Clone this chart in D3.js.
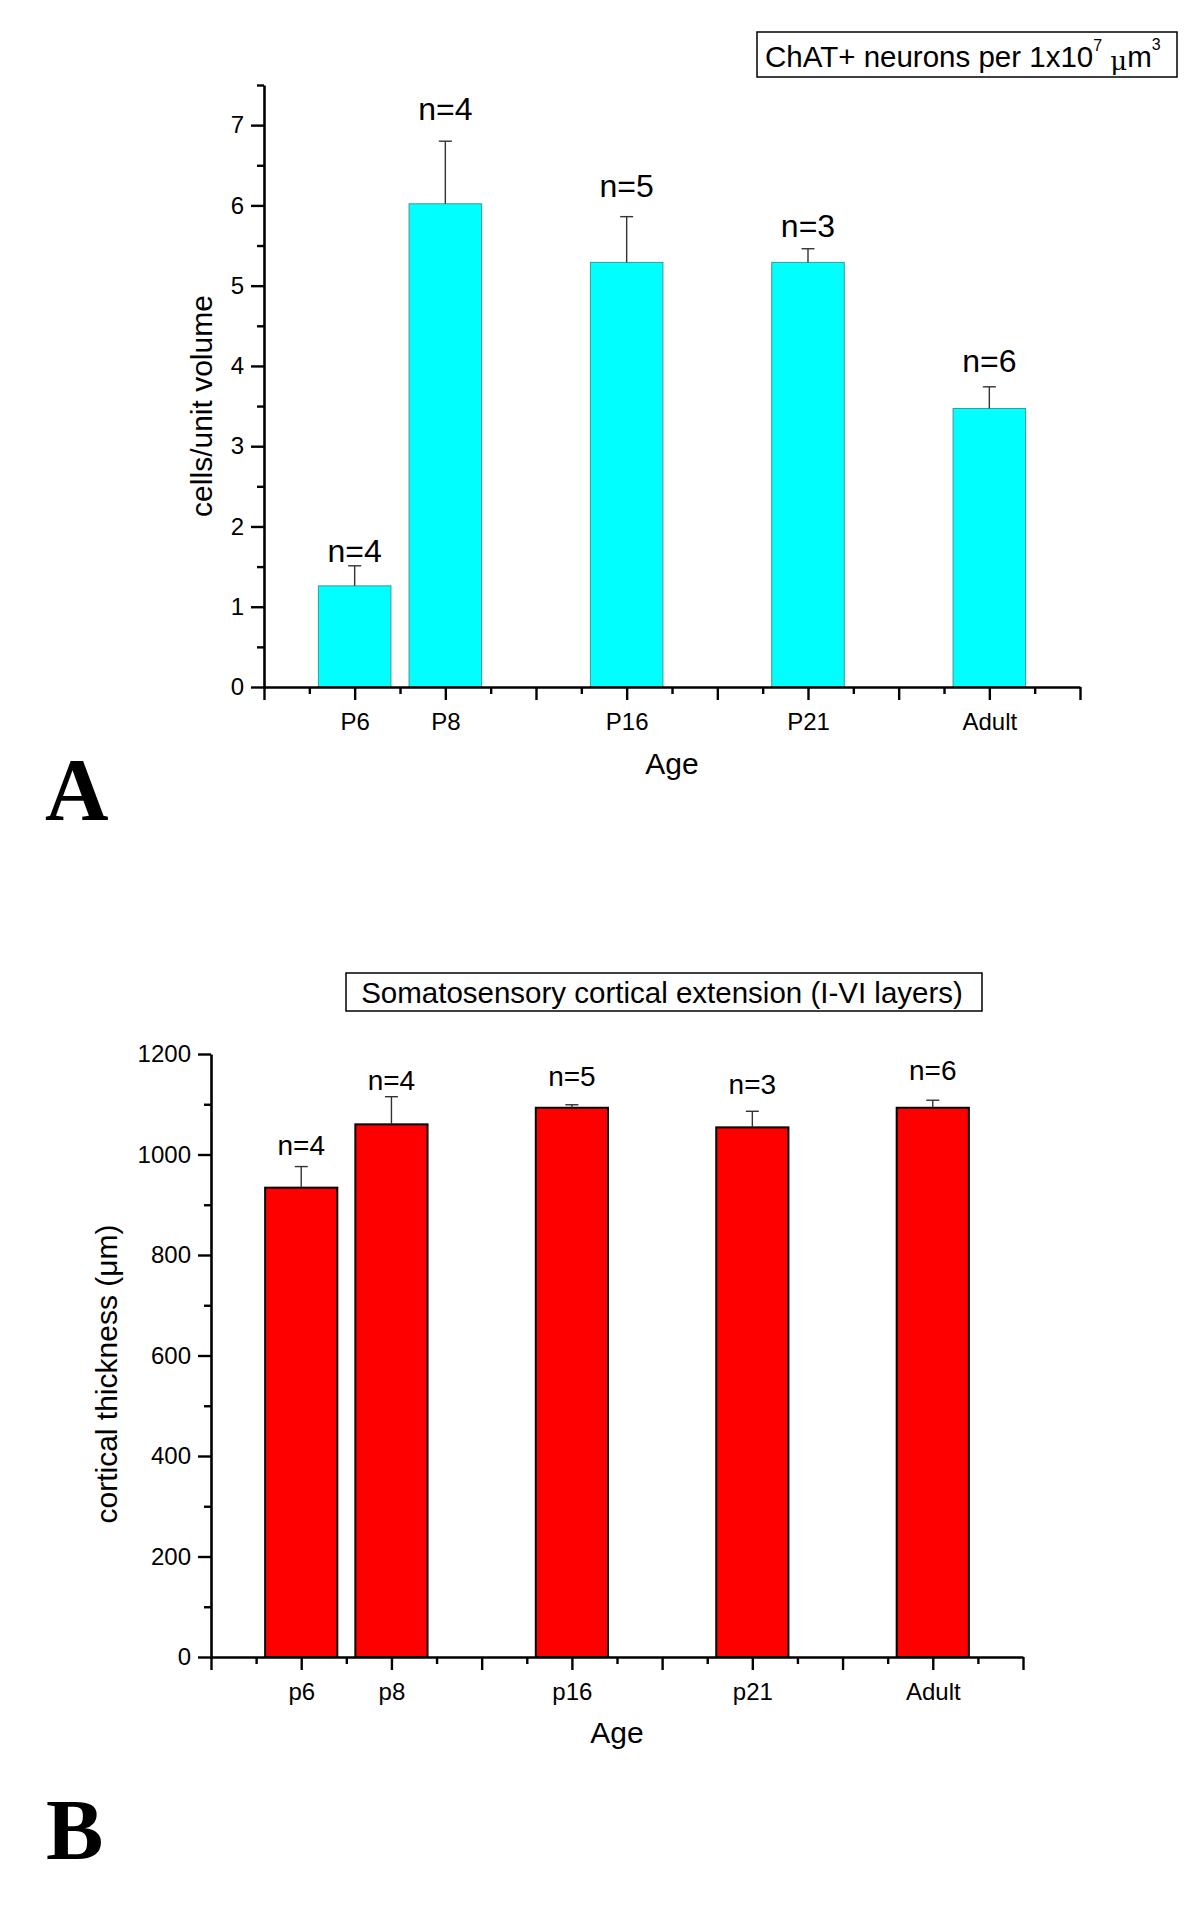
<!DOCTYPE html>
<html><head><meta charset="utf-8">
<script src="https://cdn.jsdelivr.net/npm/d3@7"></script>
<style>
html,body{margin:0;padding:0;background:#fff;}
svg{display:block;}
text{font-family:"Liberation Sans",Arial,sans-serif;fill:#000;}
</style></head>
<body>
<svg id="chart" width="1200" height="1910"></svg>
<script>
// ---- Panel A data ----
const catsA = ["P6","P8","P16","P21","Adult"];
const posA = [1,2,4,6,8];
const meanA = [1.26, 6.02, 5.29, 5.29, 3.47];
const errA = [0.25, 0.78, 0.57, 0.17, 0.27];
const nLabA = ["n=4","n=4","n=5","n=3","n=6"];
const nYA = [1.56, 7.07, 6.11, 5.61, 3.92];
const yMajorA = [0,1,2,3,4,5,6,7];
const yMinorA = [0.5,1.5,2.5,3.5,4.5,5.5,6.5,7.5];

// ---- Panel B data ----
const catsB = ["p6","p8","p16","p21","Adult"];
const posB = [1,2,4,6,8];
const meanB = [934, 1060, 1093, 1054, 1093];
const errB = [42, 55, 6, 32, 15];
const nLabB = ["n=4","n=4","n=5","n=3","n=6"];
const nYB = [1000, 1129, 1136, 1120, 1148];
const yMajorB = [0,200,400,600,800,1000,1200];
const yMinorB = [100,300,500,700,900,1100];

const xMajor = [0,1,2,3,4,5,6,7,8,9];
const xMinor = [0.5,1.5,2.5,3.5,4.5,5.5,6.5,7.5,8.5];

const svg = d3.select("#chart");
svg.append("rect").attr("width",1200).attr("height",1910).attr("fill","#fff");

function panel(cfg){
  const g = svg.append("g");
  const x = d3.scaleLinear().domain([0,9]).range(cfg.xr);
  const y = d3.scaleLinear().domain(cfg.yd).range(cfg.yr);
  const bw = x(0.8) - x(0);

  // bars
  g.selectAll("rect.bar").data(cfg.mean).join("rect")
    .attr("x",(d,i)=>x(cfg.pos[i]) - bw/2)
    .attr("y",d=>y(d))
    .attr("width",bw)
    .attr("height",d=>y(0)-y(d))
    .attr("fill",cfg.fill).attr("stroke",cfg.stroke).attr("stroke-width",cfg.sw);

  // error bars
  const eg = g.append("g").attr("stroke","#333").attr("stroke-width",1.4);
  cfg.mean.forEach((m,i)=>{
    const cx = x(cfg.pos[i]);
    eg.append("line").attr("x1",cx).attr("x2",cx).attr("y1",y(m)).attr("y2",y(m+cfg.err[i]));
    eg.append("line").attr("x1",cx-6.5).attr("x2",cx+6.5).attr("y1",y(m+cfg.err[i])).attr("y2",y(m+cfg.err[i]));
  });

  // n labels
  g.selectAll("text.nlab").data(cfg.nLab).join("text")
    .attr("x",(d,i)=>x(cfg.pos[i]))
    .attr("y",(d,i)=>y(cfg.nY[i]))
    .attr("text-anchor","middle").attr("font-size",cfg.nfs).text(d=>d);

  // y axis
  g.append("g").attr("transform",`translate(${cfg.xr[0]},0)`)
    .call(d3.axisLeft(y).tickValues(cfg.yMajor).tickSize(13).tickSizeOuter(0).tickPadding(7).tickFormat(d3.format("d")));
  g.append("g").attr("transform",`translate(${cfg.xr[0]},0)`)
    .call(d3.axisLeft(y).tickValues(cfg.yMinor).tickSize(7).tickSizeOuter(0).tickFormat(""))
    .select(".domain").remove();
  // x axis
  g.append("g").attr("transform",`translate(0,${y(0)})`)
    .call(d3.axisBottom(x).tickValues(xMajor).tickSize(13).tickSizeOuter(0).tickPadding(13)
      .tickFormat(d=>{const k=cfg.pos.indexOf(d); return k>=0?cfg.cats[k]:"";}));
  g.append("g").attr("transform",`translate(0,${y(0)})`)
    .call(d3.axisBottom(x).tickValues(xMinor).tickSize(7).tickSizeOuter(0).tickFormat(""))
    .select(".domain").remove();

  g.selectAll(".domain").attr("stroke","#000").attr("stroke-width",2.6);
  g.selectAll(".tick line").attr("stroke","#000").attr("stroke-width",2.4);
  g.selectAll(".tick text").attr("font-size",cfg.tfs).attr("font-family","Liberation Sans, Arial, sans-serif").attr("fill","#000");

  // axis titles
  g.append("text").attr("x",(cfg.xr[0]+cfg.xr[1])/2).attr("y",cfg.ageY)
    .attr("text-anchor","middle").attr("font-size",30).text("Age");
  const yl = g.append("text")
    .attr("transform",`translate(${cfg.ylX},${cfg.ylY}) rotate(-90)`)
    .attr("text-anchor","middle").attr("font-size",30);
  cfg.ylabel(yl);

  return {x,y};
}

panel({
  xr:[264,1080], yd:[0,7.5], yr:[687,85],
  cats:catsA, pos:posA, mean:meanA, err:errA, nLab:nLabA, nY:nYA,
  yMajor:yMajorA, yMinor:yMinorA,
  fill:"#00ffff", stroke:"#3a9a9a", sw:1, nfs:32, tfs:24,
  ageY:774, ylX:212, ylY:406,
  ylabel:t=>t.text("cells/unit volume")
});

panel({
  xr:[211,1023], yd:[0,1200], yr:[1657,1054],
  cats:catsB, pos:posB, mean:meanB, err:errB, nLab:nLabB, nY:nYB,
  yMajor:yMajorB, yMinor:yMinorB,
  fill:"#ff0000", stroke:"#000", sw:2, nfs:28, tfs:24,
  ageY:1743, ylX:117, ylY:1374,
  ylabel:t=>{t.append("tspan").text("cortical thickness (");t.append("tspan").text("μ");t.append("tspan").text("m)");}
});

// title box A
svg.append("rect").attr("x",757).attr("y",32).attr("width",420).attr("height",45)
  .attr("fill","#fff").attr("stroke","#000").attr("stroke-width",1.5);
const tA = svg.append("text").attr("x",765).attr("y",67).attr("font-size",29.5);
tA.append("tspan").text("ChAT+ neurons per 1x10");
tA.append("tspan").attr("font-size",16).attr("dy",-16).text("7");
tA.append("tspan").attr("dy",16).text(" ");
tA.append("tspan").attr("dy",3).style("font-family","'DejaVu Serif',serif").attr("font-size",26).text("μ");
tA.append("tspan").attr("dy",-3).text("m");
tA.append("tspan").attr("font-size",16).attr("dy",-17).text("3");

// title box B
svg.append("rect").attr("x",346).attr("y",973).attr("width",636).attr("height",38)
  .attr("fill","#fff").attr("stroke","#000").attr("stroke-width",1.5);
svg.append("text").attr("x",662).attr("y",1003).attr("text-anchor","middle").attr("font-size",29.5)
  .text("Somatosensory cortical extension (I-VI layers)");

// panel letters
svg.append("text").attr("x",45).attr("y",819).attr("font-size",88).attr("font-weight","bold")
  .style("font-family","'Liberation Serif','Times New Roman',serif").text("A");
svg.append("text").attr("x",46).attr("y",1859).attr("font-size",86).attr("font-weight","bold")
  .style("font-family","'Liberation Serif','Times New Roman',serif").text("B");
</script>
</body></html>
